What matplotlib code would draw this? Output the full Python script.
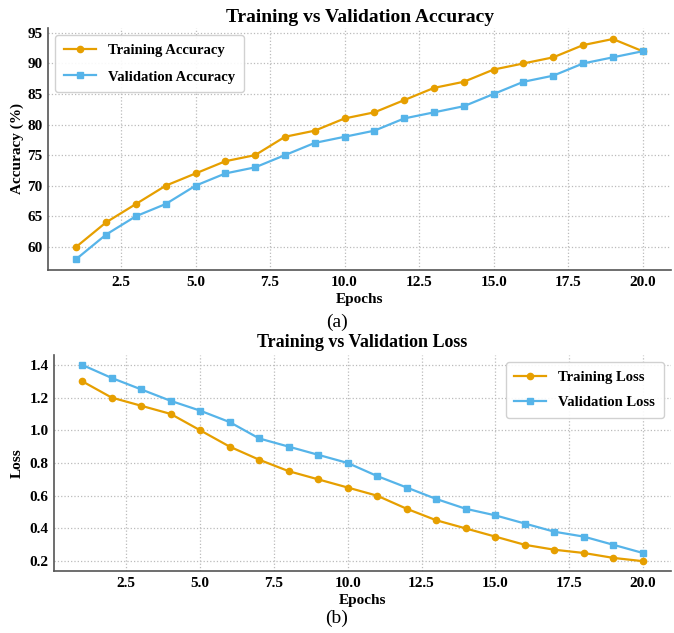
import numpy as np
import matplotlib
matplotlib.use('Agg')
import matplotlib.pyplot as plt

# values
epochs = list(range(1, 21))
train_acc = [60, 64, 67, 70, 72, 74, 75, 78, 79, 81, 82, 84, 86, 87, 89, 90, 91, 93, 94, 92]
val_acc = [58, 62, 65, 67, 70, 72, 73, 75, 77, 78, 79, 81, 82, 83, 85, 87, 88, 90, 91, 92]
train_loss = [1.3, 1.2, 1.15, 1.1, 1.0, 0.9, 0.82, 0.75, 0.7, 0.65,
              0.6, 0.52, 0.45, 0.4, 0.35, 0.3, 0.27, 0.25, 0.22, 0.2]
val_loss = [1.4, 1.32, 1.25, 1.18, 1.12, 1.05, 0.95, 0.9, 0.85, 0.8,
            0.72, 0.65, 0.58, 0.52, 0.48, 0.43, 0.38, 0.35, 0.3, 0.25]
acc_ticks = [60, 65, 70, 75, 80, 85, 90, 95]

orange = '#E69F00'
blue = '#56B4E9'

plt.rcParams['font.family'] = ['Liberation Serif', 'DejaVu Serif']
plt.rcParams['font.weight'] = 'bold'

fig = plt.figure(figsize=(6.74, 6.33), dpi=100)


def style(ax):
    ax.spines['top'].set_visible(False)
    ax.spines['right'].set_visible(False)
    for s in ('left', 'bottom'):
        ax.spines[s].set_color('#555555')
        ax.spines[s].set_linewidth(1.2)
    ax.grid(True, linestyle=':', color='#bbbbbb', linewidth=0.9)
    ax.tick_params(labelsize=11, length=0, pad=4)
    for lab in ax.get_xticklabels() + ax.get_yticklabels():
        lab.set_fontweight('bold')


# (a) accuracy
ax1 = fig.add_axes([48 / 674, 1 - 270 / 633, 623 / 674, 242 / 633])
ax1.plot(epochs, train_acc, color=orange, marker='o', markersize=4.5, linewidth=1.6, label='Training Accuracy')
ax1.plot(epochs, val_acc, color=blue, marker='s', markersize=4.5, linewidth=1.6, label='Validation Accuracy')
ax1.set_yticks(acc_ticks)
ax1.set_title('Training vs Validation Accuracy', fontsize=14, fontweight='bold', pad=4)
ax1.set_xlabel('Epochs', fontsize=11, fontweight='bold', labelpad=3)
ax1.set_ylabel('Accuracy (%)', fontsize=11, fontweight='bold', labelpad=2)
style(ax1)
ax1.legend(loc='upper left', prop={'weight': 'bold', 'size': 10.5}, framealpha=0.9,
           labelspacing=0.9, borderpad=0.6, handlelength=2.2)

# (b) loss
ax2 = fig.add_axes([54 / 674, 1 - 571 / 633, 617 / 674, 216 / 633])
ax2.plot(epochs, train_loss, color=orange, marker='o', markersize=4.5, linewidth=1.6, label='Training Loss')
ax2.plot(epochs, val_loss, color=blue, marker='s', markersize=4.5, linewidth=1.6, label='Validation Loss')
ax2.set_title('Training vs Validation Loss', fontsize=13, fontweight='bold', pad=6)
ax2.set_xlabel('Epochs', fontsize=11, fontweight='bold', labelpad=3)
ax2.set_ylabel('Loss', fontsize=11, fontweight='bold')
style(ax2)
ax2.legend(loc='upper right', prop={'weight': 'bold', 'size': 10.5}, framealpha=0.9,
           labelspacing=0.8, borderpad=0.6, handlelength=2.2)

fig.text(0.5, 1 - 322 / 633, '(a)', ha='center', va='center', fontsize=14, fontweight='normal')
fig.text(0.5, 1 - 618 / 633, '(b)', ha='center', va='center', fontsize=14, fontweight='normal')

plt.savefig('out.png', dpi=100)
